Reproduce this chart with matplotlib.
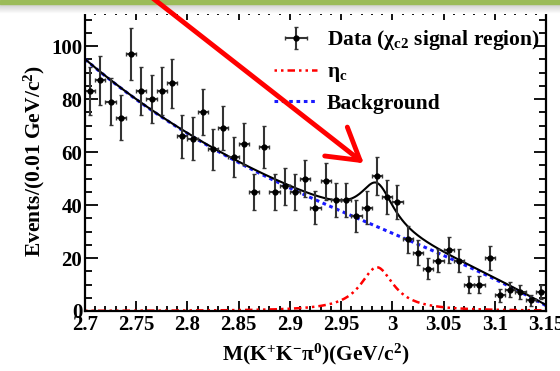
import numpy as np
import matplotlib
matplotlib.use("Agg")
import matplotlib.pyplot as plt
from matplotlib.patches import FancyArrowPatch
from matplotlib.ticker import MultipleLocator

plt.rcParams['font.family'] = ['Liberation Serif', 'DejaVu Serif']
plt.rcParams['font.weight'] = 'bold'
plt.rcParams['axes.labelweight'] = 'bold'
plt.rcParams['mathtext.fontset'] = 'custom'
plt.rcParams['mathtext.rm'] = 'Liberation Serif:bold'
plt.rcParams['mathtext.it'] = 'Liberation Serif:bold'
plt.rcParams['mathtext.bf'] = 'Liberation Serif:bold'
plt.rcParams['mathtext.default'] = 'bf'

# data: M(K+K-pi0) histogram, 0.01 GeV bins from 2.70 to 3.15
bin_lo = 2.70
bin_w = 0.01
counts = [83, 87, 79, 73, 97, 83, 80, 83, 86, 66,
          65, 75, 61, 69, 58, 63, 45, 62, 45, 47,
          45, 50, 39, 49, 42, 42, 36, 39, 51, 43,
          41, 27, 22, 16, 19, 23, 19, 10, 10, 20,
          6, 8, 7, 4, 7]

# fit result
bkg_coef = [95.0, -329.8, 562.5, -641.7]   # polynomial in (m - 2.70)
etac_mass = 2.985
etac_width = 0.040
etac_height = 16.5

counts = np.array(counts, dtype=float)
centers = bin_lo + bin_w * (np.arange(len(counts)) + 0.5)
m = np.linspace(2.70, 3.15, 500)
t = m - 2.70
bkg = sum(c * t**i for i, c in enumerate(bkg_coef))
etac = etac_height / (1 + ((m - etac_mass) / (etac_width / 2))**2)
total = bkg + etac

fig = plt.figure(figsize=(5.6, 3.71), dpi=100)
ax = fig.add_axes([85/560, 1 - 311/371, 461/560, 301/371])

ax.plot(m, etac, color='red', lw=1.8, ls=(0, (1, 1.6, 1, 1.6, 3, 1.6)), label=r'$\eta_c$')
ax.plot(m, bkg, color='#1a1aff', lw=2.2, ls=(0, (1.2, 1.2)), label='Background')
ax.plot(m, total, color='black', lw=1.5)
ax.errorbar(centers, counts, yerr=np.sqrt(counts), xerr=bin_w / 2, fmt='o',
            color='black', ecolor='#333333', ms=3.5, elinewidth=1.5, capsize=1.2,
            label=r'Data ($\chi_{c2}$ signal region)')

ax.set_xlim(2.70, 3.15)
ax.set_ylim(0, 113.6)
ax.xaxis.set_major_locator(MultipleLocator(0.05))
ax.xaxis.set_minor_locator(MultipleLocator(0.01))
ax.yaxis.set_major_locator(MultipleLocator(20))
ax.yaxis.set_minor_locator(MultipleLocator(5))
ax.set_xticks(np.arange(2.70, 3.151, 0.05))
ax.set_xticklabels(['2.7', '2.75', '2.8', '2.85', '2.9', '2.95', '3', '3.05', '3.1', '3.15'])
ax.tick_params(which='both', direction='in', top=True, right=True, labelsize=15, width=1.3)
ax.tick_params(axis='y', which='major', length=9, pad=2)
ax.tick_params(axis='y', which='minor', length=5)
ax.tick_params(axis='x', which='major', length=7)
ax.tick_params(axis='x', which='minor', length=3.5)
ax.tick_params(axis='x', pad=3)
for s in ax.spines.values():
    s.set_linewidth(1.6)

ax.set_xlabel(r'M(K$^{+}$K$^{-}$$\pi^{0}$)(GeV/c$^{2}$)', fontsize=15.5, labelpad=5)
ax.set_ylabel(r'Events/(0.01 GeV/c$^{2}$)', fontsize=15.5, labelpad=3)

h, l = ax.get_legend_handles_labels()
order = [2, 0, 1]
ax.legend([h[i] for i in order], [l[i] for i in order], frameon=False, loc='upper left',
          bbox_to_anchor=((256 - 85) / 461, 1.0), fontsize=15.5, handlelength=2.0,
          handletextpad=0.45, labelspacing=0.45, borderaxespad=0.45)

# slide decorations: green header bar and red arrow
grad = np.linspace(0.78, 1.0, 20).reshape(-1, 1)
gax = fig.add_axes([0, 1 - 14/371, 1, 11/371])
gax.imshow(np.repeat(grad, 3, axis=1), cmap='gray', vmin=0, vmax=1, aspect='auto')
gax.axis('off')
fig.add_artist(plt.Rectangle((0, 1 - 3.5/371), 1, 3.5/371, color='#9bbb59',
                             transform=fig.transFigure))

arrow = FancyArrowPatch((150/560, 1 + 4/371), (366/560, 1 - 165/371),
                        transform=fig.transFigure, arrowstyle='->,head_length=1.0,head_width=0.6',
                        mutation_scale=22, color='red', lw=3.5)
fig.add_artist(arrow)

fig.savefig('out.png', dpi=100)
